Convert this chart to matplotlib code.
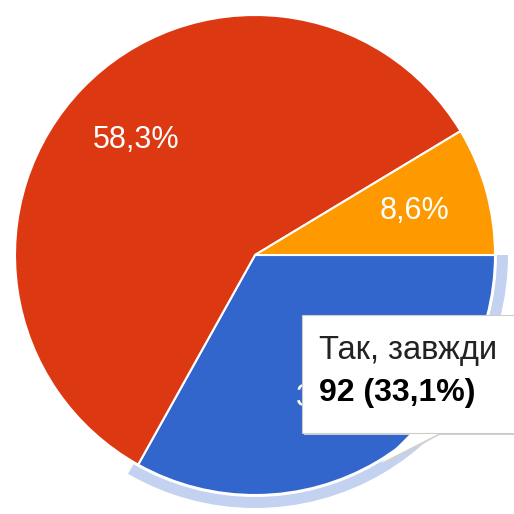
import numpy as np
import matplotlib.pyplot as plt
from matplotlib.patches import Wedge, Rectangle, Polygon

# slice data (counts), order as drawn clockwise from 3 o'clock
labels = ["Так, завжди", "Ні", "Інколи"]
counts = [92, 162, 24]
colors = ["#3366cc", "#dc3912", "#ff9900"]
pct_labels = ["33,1%", "58,3%", "8,6%"]

tip_title = "Так, завжди"
tip_value = "92 (33,1%)"

W = 514
cx, cy, R = 255, 514 - 255, 240

plt.rcParams['font.family'] = ['Liberation Sans', 'DejaVu Sans']

fig = plt.figure(figsize=(5.14, 5.14), dpi=100)
ax = fig.add_axes([0, 0, 1, 1])

wedges, _ = ax.pie(counts, colors=colors, startangle=0, counterclock=False,
                   center=(cx, cy), radius=R, frame=True,
                   wedgeprops=dict(edgecolor='white', linewidth=1.5))
ax.set_xlim(0, W)
ax.set_ylim(0, W)
ax.set_aspect('equal')
ax.axis('off')

# percentage labels
for w, txt in zip(wedges, pct_labels):
    mid = np.deg2rad((w.theta1 + w.theta2) / 2)
    ax.text(cx + 0.69 * R * np.cos(mid), cy + 0.69 * R * np.sin(mid), txt,
            color='white', fontsize=22, ha='center', va='center')

# hover ring around the highlighted slice
hw = wedges[0]
ax.add_patch(Wedge((cx, cy), R + 13, hw.theta1 - 1, hw.theta2, width=11,
                   facecolor='#c3d2f0', edgecolor='none'))

# tooltip
top, bot, left = W - 315, W - 433, 302
ax.add_patch(Rectangle((left + 2, bot - 2), 300, top - bot, facecolor='#d0d0d0',
                       edgecolor='none', zorder=5))
ax.add_patch(Polygon([(414, bot + 1), (445, bot + 1), (384, W - 465)],
                     facecolor='#d0d0d0', edgecolor='none', zorder=5))
ax.add_patch(Polygon([(412, bot + 1), (442, bot + 1), (381, W - 463)],
                     facecolor='white', edgecolor='none', zorder=6))
ax.add_patch(Rectangle((left, bot), 300, top - bot, facecolor='white',
                       edgecolor='#cccccc', linewidth=0.8, zorder=6))
ax.text(319, W - 350, tip_title, fontsize=23.5, ha='left', va='center',
        color='#222222', zorder=7)
ax.text(319, W - 393, tip_value, fontsize=23, ha='left', va='center',
        color='#000000', fontweight='bold', zorder=7)

fig.savefig('out.png', dpi=100)
